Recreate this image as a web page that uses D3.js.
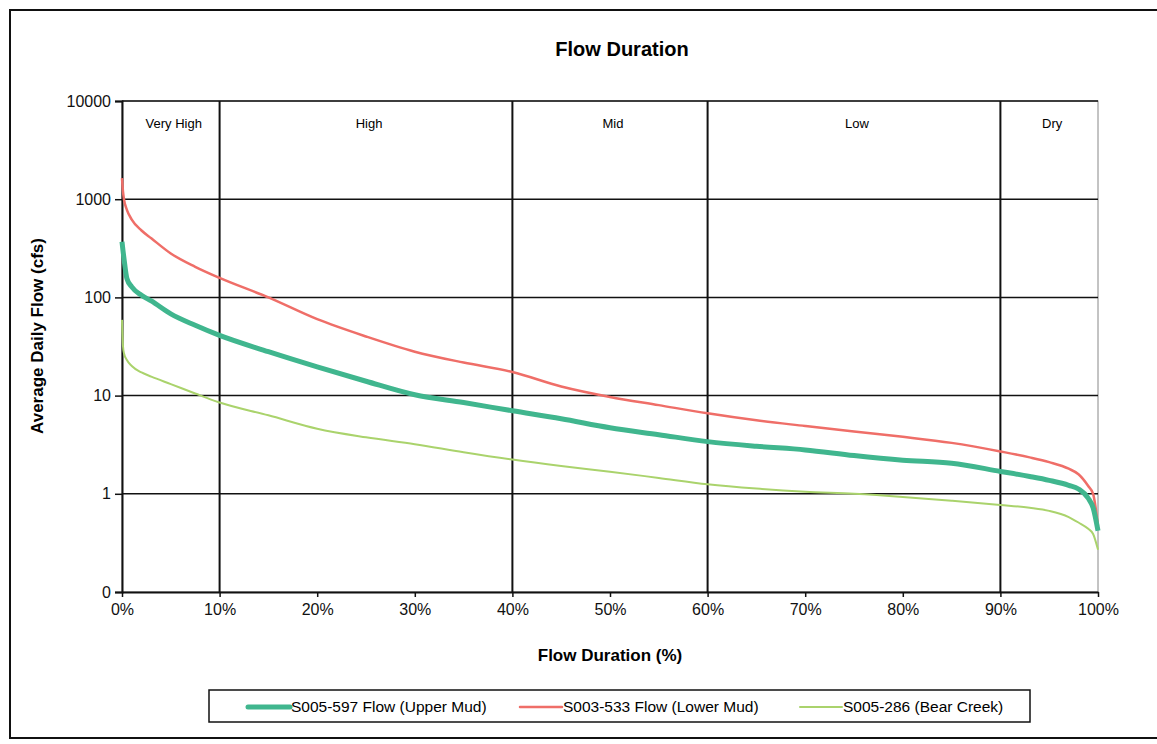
<!DOCTYPE html>
<html>
<head>
<meta charset="utf-8">
<script src="https://cdn.jsdelivr.net/npm/d3@7"></script>
<style>
  body { margin: 0; background: #fff; }
  svg { display: block; font-family: "Liberation Sans", Arial, sans-serif; }
</style>
</head>
<body>
<svg></svg>
<script>
// flow duration (% of time exceeded)
const pct = [0, 0.1, 0.2, 0.5, 1, 2, 3, 5, 7.5, 10, 15, 20, 25, 30, 35, 40, 45, 50, 55,
  60, 65, 70, 75, 80, 85, 90, 93, 95, 97, 98, 99, 99.5, 100];

// average daily flow (cfs)
const upperMud = [369, 300, 250, 156, 128, 105, 92, 68, 52, 41, 28, 19.6, 14, 10.2, 8.5,
  7.0, 5.8, 4.7, 4.0, 3.4, 3.05, 2.8, 2.45, 2.2, 2.05, 1.69, 1.5, 1.37, 1.22, 1.12, 0.9, 0.72, 0.42];
const lowerMud = [1640, 1200, 1000, 780, 620, 480, 400, 280, 205, 158, 100, 60, 40, 28, 21.7,
  17.4, 12.4, 9.7, 8, 6.6, 5.6, 4.9, 4.3, 3.8, 3.3, 2.7, 2.35, 2.1, 1.8, 1.58, 1.2, 1.0, 0.47];
const bearCreek = [59, 32, 27, 23, 20, 17.2, 15.6, 13.1, 10.5, 8.5, 6.3, 4.6, 3.76, 3.2, 2.65,
  2.23, 1.92, 1.68, 1.45, 1.25, 1.13, 1.05, 1.0, 0.93, 0.85, 0.77, 0.72, 0.67, 0.58, 0.51, 0.44, 0.39, 0.27];

const seriesNames = ["S005-597 Flow (Upper Mud)", "S003-533 Flow (Lower Mud)", "S005-286 (Bear Creek)"];
const seriesColors = ["#40b68e", "#ef6e68", "#aad36c"];
const seriesWidths = [5, 2.5, 2];

const zoneNames = ["Very High", "High", "Mid", "Low", "Dry"];
const zoneBounds = [0, 10, 40, 60, 90, 100];

const yTicks = [0.1, 1, 10, 100, 1000, 10000];
const yTickLabels = ["0", "1", "10", "100", "1000", "10000"];
const xTicks = [0, 10, 20, 30, 40, 50, 60, 70, 80, 90, 100];

const svg = d3.select("svg").attr("width", 1157).attr("height", 744);

// outer chart border
svg.append("rect")
  .attr("x", 10).attr("y", 10)
  .attr("width", 1170).attr("height", 728)
  .attr("fill", "none").attr("stroke", "#111").attr("stroke-width", 2);

const plotLeft = 122, plotRight = 1098, plotTop = 101, plotBottom = 592;

const x = d3.scaleLinear().domain([0, 100]).range([plotLeft, plotRight]);
const y = d3.scaleLog().domain([0.1, 10000]).range([plotBottom, plotTop]);

// plot border (thin grey)
svg.append("rect")
  .attr("x", plotLeft).attr("y", plotTop)
  .attr("width", plotRight - plotLeft).attr("height", plotBottom - plotTop)
  .attr("fill", "none").attr("stroke", "#888").attr("stroke-width", 1);

// horizontal gridlines
svg.append("g")
  .selectAll("line")
  .data(yTicks.slice(1))
  .join("line")
  .attr("x1", plotLeft).attr("x2", plotRight)
  .attr("y1", d => y(d)).attr("y2", d => y(d))
  .attr("stroke", "#111").attr("stroke-width", 1.5);

// zone dividers
svg.append("g")
  .selectAll("line")
  .data(zoneBounds.slice(1, -1))
  .join("line")
  .attr("x1", d => x(d)).attr("x2", d => x(d))
  .attr("y1", plotTop).attr("y2", plotBottom)
  .attr("stroke", "#111").attr("stroke-width", 2);

// zone labels
svg.append("g")
  .selectAll("text")
  .data(zoneNames)
  .join("text")
  .attr("x", (d, i) => x((zoneBounds[i] + zoneBounds[i + 1]) / 2) + 3)
  .attr("y", 128)
  .attr("text-anchor", "middle")
  .attr("font-size", 13)
  .text(d => d);

// axes
const yAxis = d3.axisLeft(y)
  .tickValues(yTicks)
  .tickFormat((d, i) => yTickLabels[i])
  .tickSize(7)
  .tickPadding(4);

svg.append("g")
  .attr("transform", `translate(${plotLeft},0)`)
  .call(yAxis)
  .call(g => g.select(".domain").attr("stroke", "#111").attr("stroke-width", 2))
  .call(g => g.selectAll(".tick line").attr("stroke", "#111").attr("stroke-width", 1.5))
  .call(g => g.selectAll("text").attr("font-size", 16).attr("fill", "#111")
    .attr("font-family", "Liberation Sans, Arial, sans-serif"));

const xAxis = d3.axisBottom(x)
  .tickValues(xTicks)
  .tickFormat(d => d + "%")
  .tickSize(5)
  .tickSizeOuter(0)
  .tickPadding(7);

svg.append("g")
  .attr("transform", `translate(0,${plotBottom})`)
  .call(xAxis)
  .call(g => g.select(".domain").attr("stroke", "#111").attr("stroke-width", 2))
  .call(g => g.selectAll(".tick line").attr("stroke", "#111").attr("stroke-width", 1.5))
  .call(g => g.selectAll("text").attr("font-size", 16).attr("fill", "#111")
    .attr("font-family", "Liberation Sans, Arial, sans-serif"));

// series lines
const seriesValues = [upperMud, lowerMud, bearCreek];
const line = d3.line()
  .x(d => x(d[0]))
  .y(d => y(d[1]))
  .curve(d3.curveMonotoneX);

// draw back to front: bear creek, lower mud, upper mud
[2, 1, 0].forEach(function(s) {
  svg.append("path")
    .datum(pct.map((p, i) => [p, seriesValues[s][i]]))
    .attr("d", line)
    .attr("fill", "none")
    .attr("stroke", seriesColors[s])
    .attr("stroke-width", seriesWidths[s])
    .attr("stroke-linejoin", "round");
});

// titles
svg.append("text")
  .attr("x", 622).attr("y", 56)
  .attr("text-anchor", "middle")
  .attr("font-size", 20).attr("font-weight", "bold")
  .text("Flow Duration");

svg.append("text")
  .attr("x", 610).attr("y", 661)
  .attr("text-anchor", "middle")
  .attr("font-size", 17).attr("font-weight", "bold")
  .text("Flow Duration (%)");

svg.append("text")
  .attr("transform", "translate(43,336) rotate(-90)")
  .attr("text-anchor", "middle")
  .attr("font-size", 17).attr("font-weight", "bold")
  .text("Average Daily Flow (cfs)");

// legend
const legend = svg.append("g");
legend.append("rect")
  .attr("x", 209).attr("y", 690)
  .attr("width", 821).attr("height", 32)
  .attr("fill", "#fff").attr("stroke", "#111").attr("stroke-width", 1.5);

const legendX = [248, 520, 800];
const item = legend.selectAll("g.item")
  .data(seriesNames)
  .join("g")
  .attr("class", "item")
  .attr("transform", (d, i) => `translate(${legendX[i]},707)`);

item.append("line")
  .attr("x1", 0).attr("x2", 42)
  .attr("stroke", (d, i) => seriesColors[i])
  .attr("stroke-width", (d, i) => seriesWidths[i])
  .attr("stroke-linecap", "round");

item.append("text")
  .attr("x", 43).attr("y", 5)
  .attr("font-size", 15.5)
  .text(d => d);
</script>
</body>
</html>
